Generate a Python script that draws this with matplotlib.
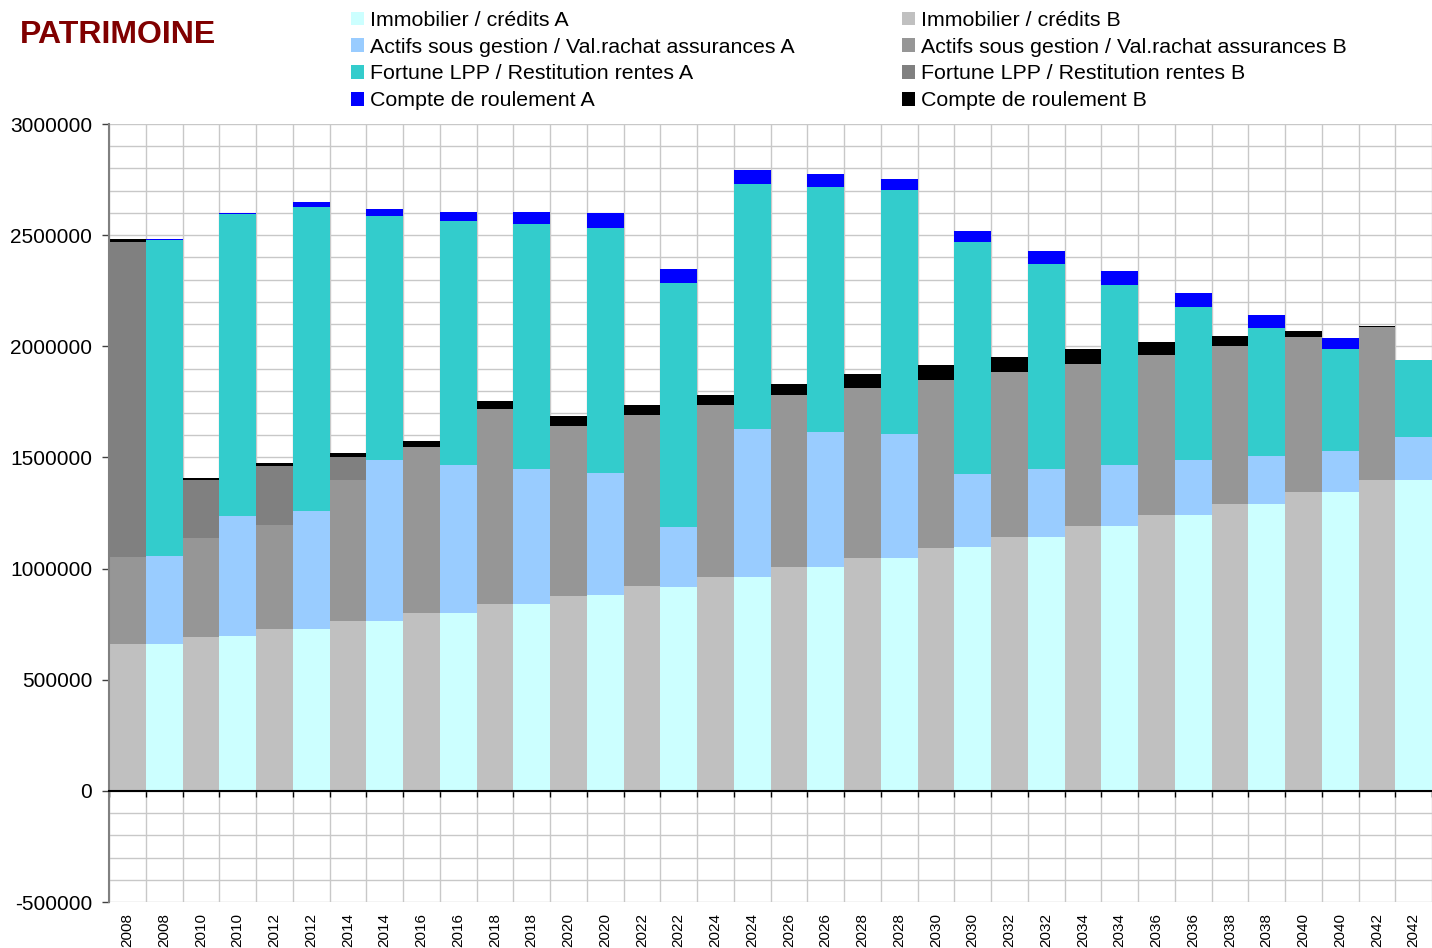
import numpy as np
import matplotlib.pyplot as plt
from matplotlib.transforms import blended_transform_factory

plt.rcParams['font.family'] = ['Liberation Sans', 'DejaVu Sans']

# Années (chaque année a une barre B puis une barre A)
years = [2008, 2010, 2012, 2014, 2016, 2018, 2020, 2022, 2024,
         2026, 2028, 2030, 2032, 2034, 2036, 2038, 2040, 2042]

# Série A
immo_a = [661000, 697000, 729000, 765000, 801000, 841000, 882000, 918000, 963000,
          1008000, 1048000, 1097000, 1142000, 1192000, 1241000, 1291000, 1345000, 1399000]
actifs_a = [396000, 540000, 530000, 724000, 665000, 607000, 548000, 269000, 665000,
            607000, 558000, 329000, 306000, 274000, 248000, 216000, 184000, 193000]
fortune_a = [1421000, 1358000, 1368000, 1097000, 1098000, 1102000, 1102000, 1098000, 1102000,
             1102000, 1097000, 1043000, 922000, 810000, 688000, 576000, 459000, 347000]
compte_a = [5000, 5000, 22000, 32000, 40000, 54000, 68000, 63000, 63000,
            58000, 50000, 50000, 59000, 63000, 63000, 58000, 50000, -5000]

# Série B
immo_b = [661000, 693000, 729000, 765000, 801000, 841000, 877000, 922000, 963000,
          1008000, 1048000, 1093000, 1142000, 1192000, 1241000, 1291000, 1345000, 1399000]
actifs_b = [391000, 445000, 467000, 634000, 746000, 877000, 765000, 769000, 773000,
            773000, 765000, 756000, 743000, 729000, 720000, 711000, 697000, 688000]
fortune_b = [1418000, 261000, 266000, 103000, 0, 0, 0, 0, 0,
             0, 0, 0, 0, 0, 0, 0, 0, 0]
compte_b = [13000, 9000, 13000, 18000, 27000, 36000, 45000, 45000, 45000,
            50000, 63000, 67000, 67000, 67000, 59000, 45000, 27000, 5000]

labels_a = ['Immobilier / crédits A', 'Actifs sous gestion / Val.rachat assurances A',
            'Fortune LPP / Restitution rentes A', 'Compte de roulement A']
labels_b = ['Immobilier / crédits B', 'Actifs sous gestion / Val.rachat assurances B',
            'Fortune LPP / Restitution rentes B', 'Compte de roulement B']
colors_a = ['#ccffff', '#99ccff', '#33cccc', '#0000ff']
colors_b = ['#c0c0c0', '#969696', '#808080', '#000000']


def stack(ax, x, series, colors, labels):
    # empile les valeurs positives vers le haut, les négatives vers le bas
    pos = np.zeros(len(x))
    neg = np.zeros(len(x))
    handles = []
    for vals, color, label in zip(series, colors, labels):
        vals = np.array(vals, dtype=float)
        bottom = np.where(vals >= 0, pos, neg)
        h = ax.bar(x, vals, width=1.0, bottom=bottom, color=color,
                   linewidth=0, label=label, zorder=2)
        handles.append(h)
        pos = pos + np.where(vals >= 0, vals, 0)
        neg = neg + np.where(vals < 0, vals, 0)
    return handles


fig = plt.figure(figsize=(14.32, 9.48), dpi=100)
ax = fig.add_axes([109 / 1432, 46 / 948, 1323 / 1432, 778 / 948])

xb = np.arange(len(years)) * 2
xa = xb + 1
hb = stack(ax, xb, [immo_b, actifs_b, fortune_b, compte_b], colors_b, labels_b)
ha = stack(ax, xa, [immo_a, actifs_a, fortune_a, compte_a], colors_a, labels_a)

n = len(years) * 2
ax.set_xlim(-0.5, n - 0.5)
ax.set_ylim(-500000, 3000000)

# axe Y
ax.set_yticks(np.arange(-500000, 3000001, 500000))
ax.set_yticks(np.arange(-500000, 3000001, 100000), minor=True)
ax.set_yticklabels([str(v) for v in range(-500000, 3000001, 500000)], fontsize=15)
ax.tick_params(axis='y', which='major', length=5, width=1, color='#404040', pad=7)
ax.tick_params(axis='y', which='minor', length=0)

# axe X : traits aux limites des barres, sur la ligne zéro
ax.set_xticks(np.arange(-0.5, n, 1.0))
ax.set_xticklabels([])
ax.tick_params(axis='x', which='major', length=4, width=1, color='black', direction='out')
ax.spines['bottom'].set_position(('data', 0))
ax.spines['bottom'].set_color('black')
ax.spines['bottom'].set_linewidth(1.5)
ax.spines['left'].set_color('#808080')
ax.spines['left'].set_linewidth(1.5)
ax.spines['top'].set_visible(False)
ax.spines['right'].set_visible(False)

ax.set_axisbelow(True)
ax.grid(True, which='both', axis='y', color='#c8c8c8', linewidth=1)
ax.grid(True, which='major', axis='x', color='#c8c8c8', linewidth=1)

# étiquettes des années sous le graphique
trans = blended_transform_factory(ax.transData, ax.transAxes)
for i, year in enumerate(years):
    for xx in (xb[i], xa[i]):
        ax.text(xx, -0.014, str(year), transform=trans, rotation=90,
                ha='center', va='top', fontsize=11)

fig.text(20 / 1432, 1 - 35 / 948, 'PATRIMOINE', color='#800000',
         fontsize=23, fontweight='bold', ha='left', va='center')

fig.legend(handles=ha + hb, labels=labels_a + labels_b, ncol=2,
           loc='upper left', bbox_to_anchor=(351 / 1432, 1 - 11 / 948),
           frameon=False, fontsize=15.4, handlelength=0.62, handleheight=0.62,
           handletextpad=0.28, columnspacing=5.0, labelspacing=0.36,
           borderpad=0, borderaxespad=0)

fig.savefig('out.png', dpi=100)
